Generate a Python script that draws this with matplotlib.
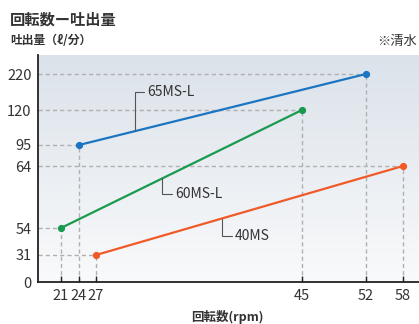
import numpy as np
import matplotlib
matplotlib.use('Agg')
import matplotlib.pyplot as plt
from matplotlib.colors import LinearSegmentedColormap

plt.rcParams['font.family'] = ['Noto Sans CJK JP', 'DejaVu Sans']

# Data
series_names = ['65MS-L', '60MS-L', '40MS']
series_rpm = [[24, 52], [21, 45], [27, 58]]
series_flow = [[95, 220], [54, 120], [31, 64]]
series_colors = ['#1b75c2', '#1a9a4c', '#f05a28']

x_ticks = [21, 24, 27, 45, 52, 58]
y_ticks = [0, 31, 54, 64, 95, 120, 220]

# The reference uses an uneven (piecewise) axis; anchor values -> pixel positions
x_breaks = [17.2, 21, 24, 27, 45, 52, 58, 60.7]
x_px = [38, 61, 79, 96, 302, 366, 403, 419]
y_breaks = [0, 31, 54, 64, 95, 120, 220, 273]
y_px = [42, 69, 96, 158, 179, 214, 250, 269]

# label leaders: fraction along line, text offset (points)
label_t = [0.195, 0.42, 0.41]
label_offset = [(8.6, 28), (9.4, -11.2), (9.4, -12.6)]


def x_fwd(v):
    return np.interp(v, x_breaks, x_px)


def x_inv(v):
    return np.interp(v, x_px, x_breaks)


def y_fwd(v):
    return np.interp(v, y_breaks, y_px)


def y_inv(v):
    return np.interp(v, y_px, y_breaks)


W, H = 419, 324
fig = plt.figure(figsize=(W / 100, H / 100), dpi=100)
rect = [38 / W, 42 / H, (W - 38) / W, (282 - 55) / H]

# gradient background
bg = fig.add_axes(rect, zorder=0)
cmap = LinearSegmentedColormap.from_list('bg', ['#f9fafb', '#dbe2ea'])
grad = np.linspace(0, 1, 256).reshape(-1, 1)
bg.imshow(grad, aspect='auto', cmap=cmap, origin='lower', extent=[0, 1, 0, 1])
bg.axis('off')

ax = fig.add_axes(rect, zorder=1)
ax.patch.set_alpha(0)
ax.set_xscale('function', functions=(x_fwd, x_inv))
ax.set_yscale('function', functions=(y_fwd, y_inv))
ax.set_xlim(x_breaks[0], x_breaks[-1])
ax.set_ylim(y_breaks[0], y_breaks[-1])

grid_kw = dict(color='#b0b0b0', lw=1.0, linestyle=(0, (3, 2.2)), zorder=1)
for xs, ys in zip(series_rpm, series_flow):
    for x, y in zip(xs, ys):
        ax.plot([x, x], [0, y], **grid_kw)
        ax.plot([x_breaks[0], x], [y, y], **grid_kw)

for name, xs, ys, c, t, off in zip(series_names, series_rpm, series_flow,
                                   series_colors, label_t, label_offset):
    ax.plot(xs, ys, color=c, lw=1.6, marker='o', ms=4.2, zorder=3,
            solid_capstyle='round')
    # anchor point on the drawn (straight on screen) line
    px = x_fwd(xs[0]) + t * (x_fwd(xs[1]) - x_fwd(xs[0]))
    py = y_fwd(ys[0]) + t * (y_fwd(ys[1]) - y_fwd(ys[0]))
    ax.annotate(name, xy=(x_inv(px), y_inv(py)), xytext=off,
                textcoords='offset points', fontsize=10, color='#333333',
                va='center', ha='left', zorder=4,
                arrowprops=dict(arrowstyle='-', color='#555555', lw=0.8,
                                shrinkA=0, shrinkB=0, relpos=(-0.04, 0.5),
                                connectionstyle='angle,angleA=0,angleB=90,rad=0'))

ax.set_xticks(x_ticks)
ax.set_xticklabels([str(v) for v in x_ticks])
ax.set_yticks(y_ticks)
ax.set_yticklabels([str(v) for v in y_ticks])
ax.minorticks_off()
ax.tick_params(axis='x', direction='in', length=4.5, width=1.0, color='#222222',
               labelsize=10.5, labelcolor='#333333', pad=5)
ax.tick_params(axis='y', length=0, labelsize=10.5, labelcolor='#333333', pad=4.5)

for s in ['top', 'right']:
    ax.spines[s].set_visible(False)
for s in ['left', 'bottom']:
    ax.spines[s].set_color('#222222')
    ax.spines[s].set_linewidth(1.3)

fig.text(10 / W, 1 - 19.5 / H, '回転数ー吐出量', fontsize=11, fontweight='bold',
         color='#333333', va='center', ha='left')
fig.text(10 / W, 1 - 41 / H, '吐出量（ℓ/分）', fontsize=8.5, fontweight='bold',
         color='#333333', va='center', ha='left')
fig.text(377 / W, 1 - 41.5 / H, '※清水', fontsize=9.5,
         color='#333333', va='center', ha='left')
fig.text(227 / W, 1 - 310 / H, '回転数(rpm)', fontsize=9, fontweight='bold',
         color='#333333', va='top', ha='center')

fig.savefig('out.png', dpi=100)
